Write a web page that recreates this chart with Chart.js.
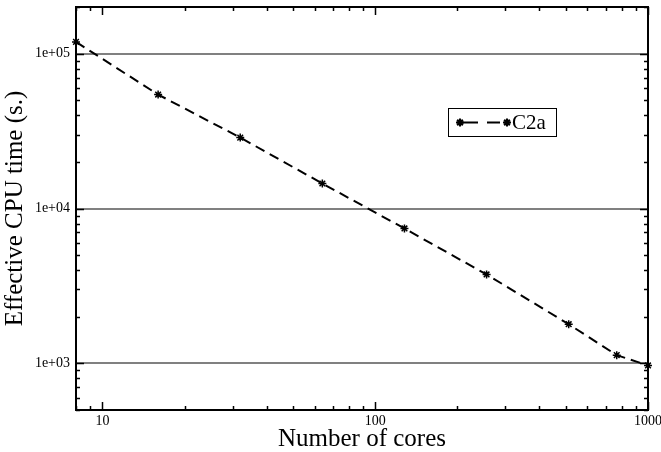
<!DOCTYPE html>
<html>
<head>
<meta charset="utf-8">
<script src="https://cdn.jsdelivr.net/npm/chart.js@4/dist/chart.umd.min.js"></script>
<style>
  html, body { margin:0; padding:0; background:#fff; }
  #wrap { width:661px; height:452px; position:relative; }
</style>
</head>
<body>
<div id="wrap"><canvas id="cpuChart"></canvas></div>
<script>
// cores vs effective CPU time
const cores = [8, 16, 32, 64, 128, 256, 512, 768, 1000];
const cpuTime = [119000, 54400, 28700, 14500, 7430, 3750, 1790, 1130, 970];
const xTicks = [10, 100, 1000];
const yTicks = [1000, 10000, 100000];
const seriesLabel = 'C2a';

const FONT = '"Liberation Serif", "Times New Roman", serif';

// minor log ticks for a range
function logMinor(min, max){
  const out = [];
  for(let d = Math.pow(10, Math.floor(Math.log10(min))); d <= max; d *= 10){
    for(let m = 1; m <= 9; m++){
      const v = m * d;
      if(v >= min && v <= max) out.push(v);
    }
  }
  return out;
}

const frame = {
  id: 'frame',
  afterDatasetsDraw(chart){
    const {ctx, chartArea:a, scales:{x, y}} = chart;
    ctx.save();
    ctx.strokeStyle = '#000';
    ctx.lineWidth = 1.5;
    ctx.beginPath();
    logMinor(x.min, x.max).forEach(v => {
      const px = Math.round(x.getPixelForValue(v)) + 0.5;
      const len = xTicks.includes(v) ? 8 : 4;
      ctx.moveTo(px, a.bottom); ctx.lineTo(px, a.bottom - len);
      ctx.moveTo(px, a.top); ctx.lineTo(px, a.top + len);
    });
    logMinor(y.min, y.max).forEach(v => {
      const py = Math.round(y.getPixelForValue(v)) + 0.5;
      const len = yTicks.includes(v) ? 8 : 4;
      ctx.moveTo(a.left, py); ctx.lineTo(a.left + len, py);
      ctx.moveTo(a.right, py); ctx.lineTo(a.right - len, py);
    });
    ctx.stroke();
    ctx.lineWidth = 2;
    ctx.strokeRect(a.left, a.top, a.right - a.left, a.bottom - a.top);

    // legend box
    const bx = Math.round(a.left + (a.right - a.left) * 0.65);
    const by = Math.round(a.top + (a.bottom - a.top) * 0.25);
    const bw = 108, bh = 28;
    ctx.fillStyle = '#fff';
    ctx.fillRect(bx, by, bw, bh);
    ctx.lineWidth = 1;
    ctx.strokeRect(bx + 0.5, by + 0.5, bw, bh);
    const cy = by + bh / 2 + 0.5;
    ctx.lineWidth = 2;
    ctx.beginPath();
    ctx.moveTo(bx + 12, cy); ctx.lineTo(bx + 30, cy);
    ctx.moveTo(bx + 39, cy); ctx.lineTo(bx + 52, cy);
    ctx.stroke();
    Chart.helpers.drawPoint(ctx, {pointStyle:'star', radius:4, borderWidth:1.5}, bx + 12, cy);
    Chart.helpers.drawPoint(ctx, {pointStyle:'star', radius:4, borderWidth:1.5}, bx + 59, cy);
    ctx.fillStyle = '#000';
    ctx.font = '21px ' + FONT;
    ctx.textBaseline = 'middle';
    ctx.fillText(seriesLabel, bx + 64, cy + 1);
    ctx.restore();
  }
};

new Chart(document.getElementById('cpuChart'), {
  type: 'line',
  data: {
    labels: cores,
    datasets: [{
      label: seriesLabel,
      data: cores.map((c, i) => ({x: c, y: cpuTime[i]})),
      borderColor: '#000',
      backgroundColor: '#000',
      borderWidth: 2,
      borderDash: [10, 6],
      pointStyle: 'star',
      pointRadius: 4,
      pointBorderWidth: 1.5,
      pointBorderColor: '#000',
      tension: 0,
      clip: false
    }]
  },
  plugins: [frame],
  options: {
    responsive: true,
    maintainAspectRatio: false,
    animation: false,
    layout: {padding: {top: 7, right: 13, left: 0, bottom: 0}},
    plugins: {legend: {display: false}, tooltip: {enabled: false}},
    scales: {
      x: {
        type: 'logarithmic',
        min: 8, max: 1000,
        afterBuildTicks: s => { s.ticks = xTicks.map(v => ({value: v})); },
        afterFit: s => { s.height = 42; s.paddingLeft = 0; s.paddingRight = 0; },
        grid: {display: false, drawTicks: false},
        border: {display: false},
        ticks: {
          color: '#000', padding: 3, maxRotation: 0, autoSkip: false,
          font: {family: FONT, size: 14},
          callback: v => String(v)
        },
        title: {
          display: true, text: 'Number of cores', color: '#000',
          font: {family: FONT, size: 25}, padding: {top: 0, bottom: -2}
        }
      },
      y: {
        type: 'logarithmic',
        min: 500, max: 200000,
        afterBuildTicks: s => { s.ticks = yTicks.map(v => ({value: v})); },
        afterFit: s => { s.width = 76; s.paddingTop = 0; s.paddingBottom = 0; },
        grid: {color: '#808080', lineWidth: 2, drawTicks: false},
        border: {display: false},
        ticks: {
          color: '#000', padding: 6, autoSkip: false,
          font: {family: FONT, size: 14},
          callback: v => '1e+0' + Math.round(Math.log10(v))
        },
        title: {
          display: true, text: 'Effective CPU time (s.)', color: '#000',
          font: {family: FONT, size: 25}, padding: {top: 0, bottom: 2}
        }
      }
    }
  }
});
</script>
</body>
</html>
